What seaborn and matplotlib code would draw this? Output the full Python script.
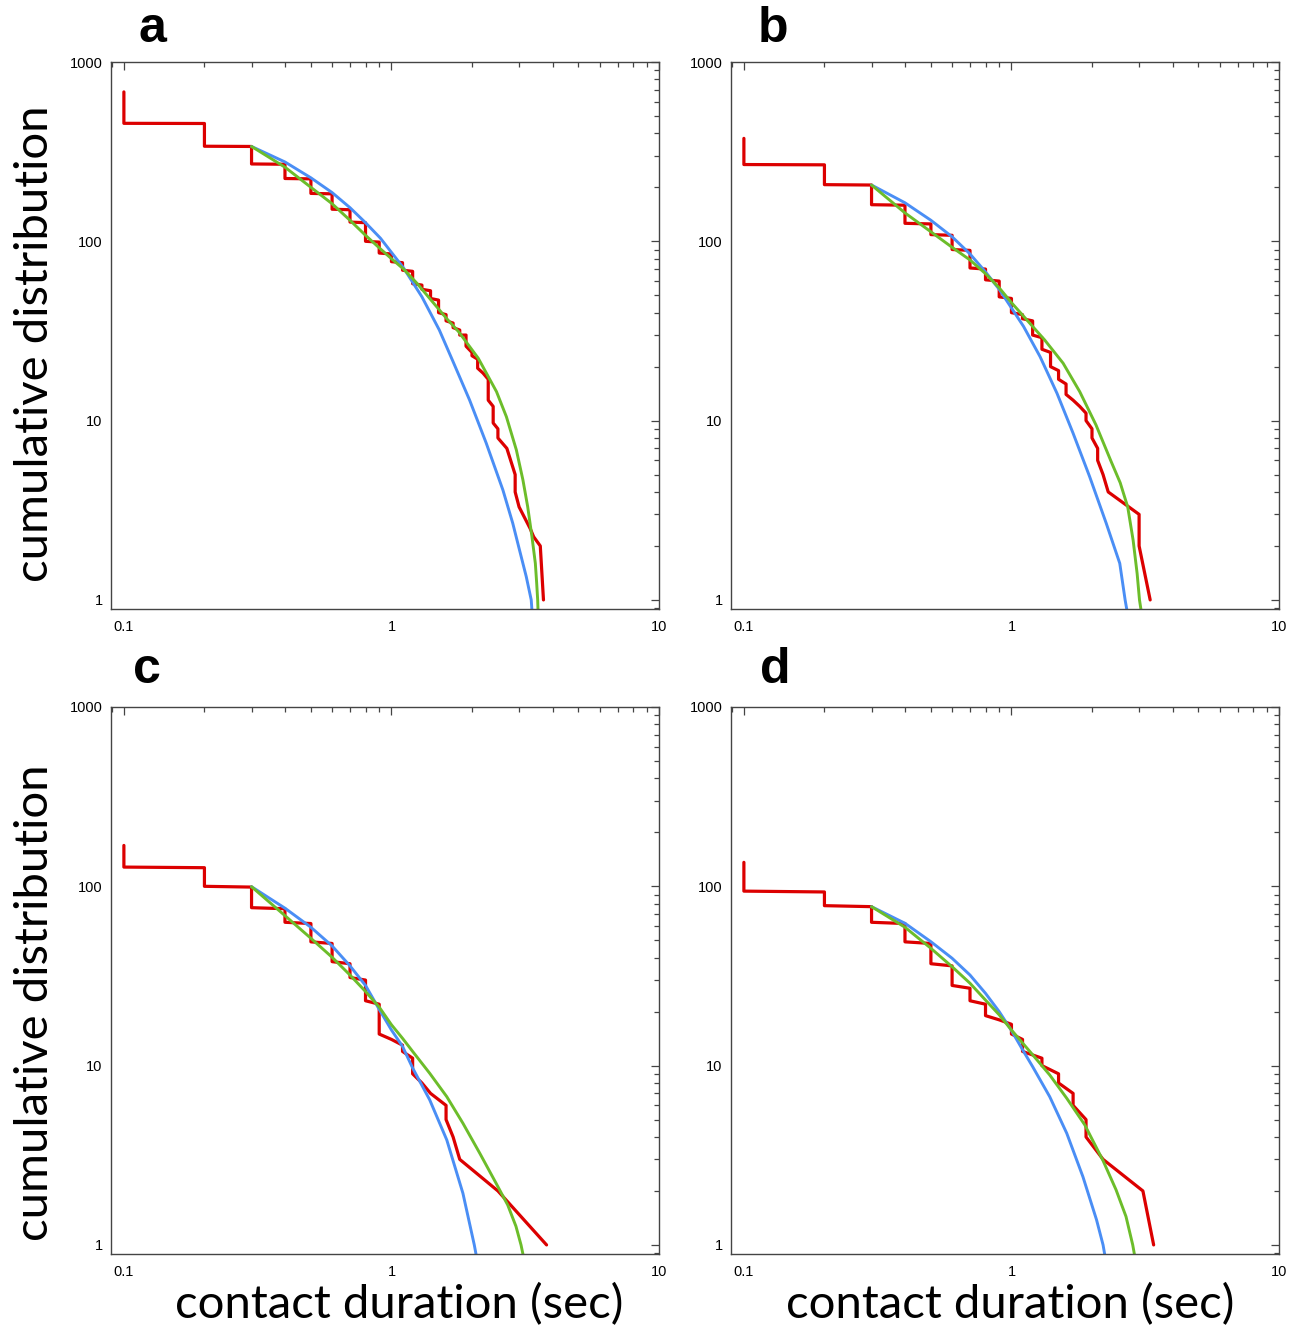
import matplotlib
matplotlib.use("Agg")
import matplotlib.pyplot as plt
import matplotlib.ticker as mticker
import pandas as pd
import seaborn as sns

#------------------------------------------------------------------------------#
# DATA
# red: rank plot of contact durations -> for each duration the count at the
# top and at the bottom of its vertical run
# blue / green: the two fitted curves, sampled points

# panel a
a_dur = [0.1, 0.2, 0.3, 0.4, 0.5, 0.6, 0.7, 0.8, 0.9, 1.0, 1.1, 1.2, 1.3, 1.4, 1.5, 1.6,
         1.7, 1.8, 1.9, 2.0, 2.1, 2.2, 2.3, 2.4, 2.5, 2.7, 2.9, 3.0, 3.3, 3.4, 3.6, 3.7]
a_top = [681, 454, 338, 269, 223, 184, 150, 127, 99, 85, 76, 68, 57, 53, 47, 39,
         35, 32, 30, 24, 22, 18.4, 17, 12, 9, 7, 5, 3.3, 2.5, 2.25, 2, 1]
a_bot = [455, 339, 270, 224, 185, 151, 128, 100, 86, 77, 69, 58, 54, 48, 40, 36,
         33, 30, 26, 23, 19.6, 18.4, 13, 9.7, 8, 7, 4, 3.3, 2.5, 2.25, 2, 1]
a_blue_x = [0.30, 0.40, 0.50, 0.60, 0.70, 0.80, 0.91, 1.11, 1.30, 1.51, 1.70, 1.96, 2.26, 2.61, 2.84, 3.01, 3.19, 3.33, 3.35]
a_blue_y = [338, 277, 226, 187, 154, 127, 104, 71, 49, 32, 21.3, 13.0, 7.5, 4.1, 2.68, 1.9, 1.35, 1.0, 0.88]
a_green_x = [0.30, 0.40, 0.50, 0.60, 0.70, 0.80, 0.90, 1.00, 1.11, 1.25, 1.39, 1.61, 1.78, 2.11, 2.47, 2.69, 2.93, 3.10,
             3.23, 3.35, 3.45, 3.49, 3.52, 3.53]
a_green_y = [338, 259, 200, 162, 131, 108, 92, 80, 70, 58, 48, 37, 31.4, 22.3, 14.5, 10.5, 6.86, 4.67,
             3.31, 2.26, 1.60, 1.24, 1.0, 0.88]

# panel b
b_dur = [0.1, 0.2, 0.3, 0.4, 0.5, 0.6, 0.7, 0.8, 0.9, 1.0, 1.1, 1.2, 1.3, 1.4, 1.5, 1.6,
         1.7, 1.8, 1.9, 2.0, 2.1, 2.2, 2.3, 3.0, 3.3]
b_top = [375, 267, 206, 159, 125, 108, 89, 70, 60, 48, 39, 36, 29, 24, 19, 16,
         13, 12, 11, 9, 7, 5, 4, 3, 1]
b_bot = [268, 207, 160, 126, 109, 90, 71, 61, 49, 40, 37, 30, 25, 20, 17, 14,
         13, 12, 10, 8, 6, 5, 4, 2, 1]
b_blue_x = [0.30, 0.40, 0.50, 0.60, 0.70, 0.80, 0.90, 1.00, 1.11, 1.28, 1.48, 1.70, 1.96, 2.26, 2.54, 2.66, 2.70]
b_blue_y = [206, 164, 131, 106, 85, 67.5, 54, 42.5, 33.5, 22.7, 14.2, 8.5, 4.87, 2.68, 1.60, 1.0, 0.88]
b_green_x = [0.30, 0.40, 0.50, 0.60, 0.70, 0.80, 0.90, 1.00, 1.15, 1.33, 1.56, 1.80, 2.07, 2.36, 2.55, 2.72,
             2.85, 2.95, 3.01, 3.05]
b_green_y = [206, 144, 113, 92.6, 78.7, 66, 55, 45.5, 36, 28.2, 20.9, 14.5, 9.46, 5.9, 4.5, 3.3,
             2.15, 1.4, 1.0, 0.88]

# panel c
c_dur = [0.1, 0.2, 0.3, 0.4, 0.5, 0.6, 0.7, 0.8, 0.9, 1.0, 1.1, 1.2, 1.3, 1.4, 1.6, 1.7, 1.8, 2.5, 3.8]
c_top = [169, 127, 99, 75, 62, 48, 37, 30, 22, 14, 13, 11, 8, 7, 6, 4, 3, 2, 1]
c_bot = [128, 100, 76, 63, 49, 38, 31, 23, 15, 14, 12, 9, 8, 7, 5, 4, 3, 2, 1]
c_blue_x = [0.30, 0.40, 0.50, 0.60, 0.70, 0.80, 0.90, 1.00, 1.10, 1.20, 1.39, 1.61, 1.85, 2.04, 2.07]
c_blue_y = [99.5, 75.5, 59.1, 46.5, 36.0, 28.0, 20.6, 15.8, 12.8, 9.7, 6.44, 3.85, 1.94, 1.0, 0.89]
c_green_x = [0.30, 0.40, 0.50, 0.60, 0.70, 0.80, 0.90, 1.00, 1.10, 1.20, 1.39, 1.61, 1.85, 2.14, 2.46, 2.72,
             2.92, 3.05, 3.10]
c_green_y = [99.5, 68.6, 51.3, 40.2, 32.0, 25.9, 21.2, 16.9, 14.2, 12.0, 9.06, 6.71, 4.77, 3.24, 2.21, 1.67,
             1.27, 1.0, 0.89]

# panel d
d_dur = [0.1, 0.2, 0.3, 0.4, 0.5, 0.6, 0.7, 0.8, 0.9, 1.0, 1.1, 1.3, 1.5, 1.7, 1.9, 2.2, 3.1, 3.4]
d_top = [136, 93, 77, 62, 48, 36, 27, 22, 18, 17, 14, 11, 9, 7, 5, 3, 2, 1]
d_bot = [94, 78, 63, 49, 37, 28, 23, 19, 18, 15, 12, 10, 8, 6, 4, 3, 2, 1]
d_blue_x = [0.30, 0.40, 0.50, 0.60, 0.70, 0.80, 0.90, 1.00, 1.11, 1.20, 1.39, 1.61, 1.85, 2.08, 2.20, 2.23]
d_blue_y = [77, 62.2, 49.1, 39.7, 32.0, 25.3, 20.0, 15.7, 12.0, 9.87, 6.71, 4.19, 2.40, 1.38, 1.0, 0.89]
d_green_x = [0.30, 0.40, 0.50, 0.60, 0.70, 0.80, 0.90, 1.00, 1.20, 1.39, 1.61, 1.88, 2.20, 2.46, 2.68, 2.84, 2.88]
d_green_y = [77, 59.1, 45.1, 35.6, 28.8, 23.2, 19.2, 15.8, 11.5, 8.87, 6.57, 4.67, 2.95, 2.03, 1.44, 1.0, 0.89]

panel_letters = ["a", "b", "c", "d"]
x_label = "contact duration (sec)"
y_label = "cumulative distribution"

#------------------------------------------------------------------------------#

RED = "#dc0000"
BLUE = "#4a8ef5"
GREEN = "#6cbd2a"
W, H = 1308, 1327

sns.set_style("white")
plt.rcParams["font.family"] = ["Liberation Sans", "DejaVu Sans"]
plt.rcParams["text.color"] = "black"


def rank_path(dur, top, bot):
    xs, ys = [], []
    for d, t, b in zip(dur, top, bot):
        xs += [d, d]
        ys += [t, b]
    return pd.DataFrame({"x": xs, "y": ys})


def axes_box(left, top, right, bottom):
    return [left / W, 1 - bottom / H, (right - left) / W, (bottom - top) / H]


def draw_panel(ax, dur, top, bot, bx, by, gx, gy):
    sns.lineplot(data=rank_path(dur, top, bot), x="x", y="y", ax=ax, sort=False,
                 estimator=None, color=RED, lw=2.3)
    sns.lineplot(x=bx, y=by, ax=ax, sort=False, estimator=None, color=BLUE, lw=2.1)
    sns.lineplot(x=gx, y=gy, ax=ax, sort=False, estimator=None, color=GREEN, lw=2.1)
    ax.set_xscale("log")
    ax.set_yscale("log")
    ax.set_xlim(0.0895, 10)
    ax.set_ylim(0.89, 1000)
    ax.set_xlabel("")
    ax.set_ylabel("")
    ax.xaxis.set_major_locator(mticker.LogLocator(base=10))
    ax.yaxis.set_major_locator(mticker.LogLocator(base=10))
    ax.xaxis.set_minor_locator(mticker.LogLocator(base=10, subs=range(2, 10)))
    ax.yaxis.set_minor_locator(mticker.LogLocator(base=10, subs=range(2, 10)))
    fmt = mticker.FuncFormatter(lambda v, p: f"{v:g}")
    ax.xaxis.set_major_formatter(fmt)
    ax.yaxis.set_major_formatter(fmt)
    ax.xaxis.set_minor_formatter(mticker.NullFormatter())
    ax.yaxis.set_minor_formatter(mticker.NullFormatter())
    ax.tick_params(which="both", direction="in", top=True, right=True,
                   color="#444444", width=0.9, labelsize=10.5, labelcolor="black")
    ax.tick_params(which="major", length=6)
    ax.tick_params(which="minor", length=3.5)
    ax.tick_params(axis="x", pad=8)
    ax.tick_params(axis="y", pad=6)
    for s in ax.spines.values():
        s.set_color("#444444")
        s.set_linewidth(1.0)


fig = plt.figure(figsize=(W / 100, H / 100), dpi=100)

boxes = [axes_box(111, 62, 659, 609), axes_box(731, 62, 1279, 609),
         axes_box(111, 707, 659, 1254), axes_box(731, 707, 1279, 1254)]
panels = [
    (a_dur, a_top, a_bot, a_blue_x, a_blue_y, a_green_x, a_green_y),
    (b_dur, b_top, b_bot, b_blue_x, b_blue_y, b_green_x, b_green_y),
    (c_dur, c_top, c_bot, c_blue_x, c_blue_y, c_green_x, c_green_y),
    (d_dur, d_top, d_bot, d_blue_x, d_blue_y, d_green_x, d_green_y),
]
for box, pdata in zip(boxes, panels):
    ax = fig.add_axes(box)
    draw_panel(ax, *pdata)

# panel letters
letter_pos = [(152, 42), (773, 42), (147, 683), (775, 683)]
for letter, (lx, ly) in zip(panel_letters, letter_pos):
    fig.text(lx / W, 1 - ly / H, letter, fontsize=36, fontweight="bold",
             ha="center", va="baseline")

# axis titles
lab_font = ["Lato", "DejaVu Sans"]
for cx in (399, 1010):
    fig.text(cx / W, 1 - 1318 / H, x_label, fontsize=34, family=lab_font,
             ha="center", va="baseline")
for cy in (344, 1003):
    fig.text(35 / W, 1 - cy / H, y_label, fontsize=34, family=lab_font,
             rotation=90, ha="center", va="center")

fig.savefig("out.png", dpi=100)
